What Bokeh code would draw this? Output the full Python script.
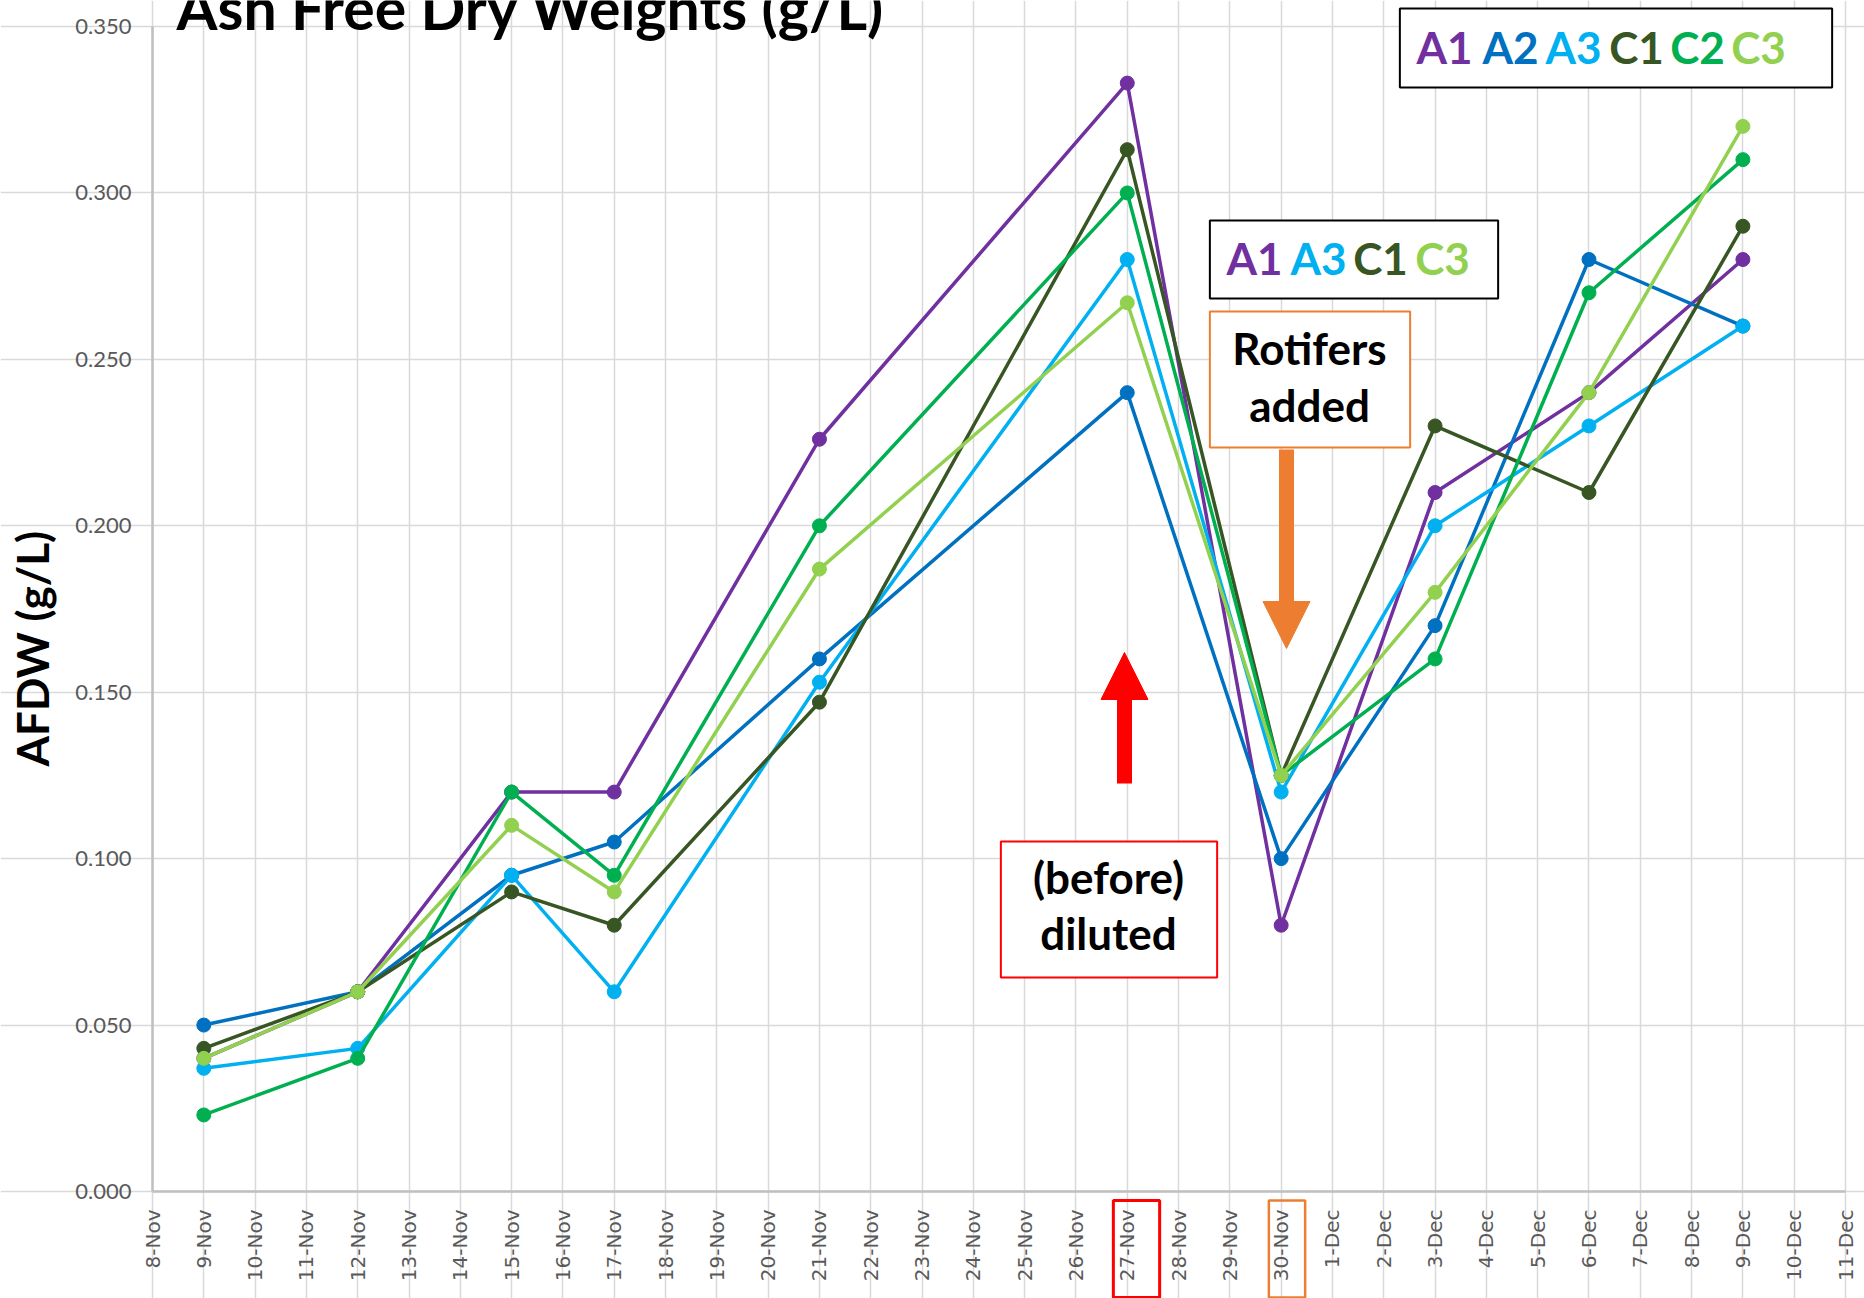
from math import pi
from bokeh.plotting import figure
from bokeh.models import (Range1d, FixedTicker, Label, Arrow,
                          NormalHead, NumeralTickFormatter)
from bokeh.embed import file_html
from bokeh.resources import INLINE

# ---------------- data ----------------
tick_labels = ["8-Nov", "9-Nov", "10-Nov", "11-Nov", "12-Nov", "13-Nov", "14-Nov",
               "15-Nov", "16-Nov", "17-Nov", "18-Nov", "19-Nov", "20-Nov", "21-Nov",
               "22-Nov", "23-Nov", "24-Nov", "25-Nov", "26-Nov", "27-Nov", "28-Nov",
               "29-Nov", "30-Nov", "1-Dec", "2-Dec", "3-Dec", "4-Dec", "5-Dec",
               "6-Dec", "7-Dec", "8-Dec", "9-Dec", "10-Dec", "11-Dec"]
dates = ["9-Nov", "12-Nov", "15-Nov", "17-Nov", "21-Nov", "27-Nov", "30-Nov",
         "3-Dec", "6-Dec", "9-Dec"]
A1 = [0.040, 0.060, 0.120, 0.120, 0.226, 0.333, 0.080, 0.210, 0.240, 0.280]
A2 = [0.050, 0.060, 0.095, 0.105, 0.160, 0.240, 0.100, 0.170, 0.280, 0.260]
A3 = [0.037, 0.043, 0.095, 0.060, 0.153, 0.280, 0.120, 0.200, 0.230, 0.260]
C1 = [0.043, 0.060, 0.090, 0.080, 0.147, 0.313, 0.125, 0.230, 0.210, 0.290]
C2 = [0.023, 0.040, 0.120, 0.095, 0.200, 0.300, 0.125, 0.160, 0.270, 0.310]
C3 = [0.040, 0.060, 0.110, 0.090, 0.187, 0.267, 0.125, 0.180, 0.240, 0.320]
series_names = ["A1", "A2", "A3", "C1", "C2", "C3"]
series_values = [A1, A2, A3, C1, C2, C3]
y_ticks = [0.0, 0.05, 0.10, 0.15, 0.20, 0.25, 0.30, 0.35]
y_max = 0.35

colors = {"A1": "#7030A0", "A2": "#0070C0", "A3": "#00B0F0",
          "C1": "#375623", "C2": "#00B050", "C3": "#92D050"}

x_idx = [tick_labels.index(d) for d in dates]
n_days = len(tick_labels) - 1

# pixel -> data helpers (axes span px 152..1845 horizontally, y=0 at px 1191, y=0.35 at px 26)
W, H = 1864, 1298
FL, FR, FT, FB = 152.0, 1845.0, 26.0, 1191.0
def X(px):
    return (px - FL) / (FR - FL) * n_days
def Y(py):
    return (FB - py) / (FB - FT) * y_max

# ---------------- figure ----------------
# the frame covers the whole canvas; both axes are pinned at the data origin
p = figure(width=W, height=H,
           x_range=Range1d(X(0), X(W)), y_range=Range1d(Y(H), Y(0)),
           output_backend="svg", toolbar_location=None,
           min_border=0, min_border_left=0, min_border_right=0,
           min_border_top=0, min_border_bottom=0)
p.outline_line_color = None
p.background_fill_color = "white"
p.border_fill_color = "white"

# axes
p.xaxis.fixed_location = 0
p.xaxis.bounds = (0, n_days)
p.xaxis.ticker = FixedTicker(ticks=list(range(len(tick_labels))))
p.xaxis.major_label_overrides = {i: t for i, t in enumerate(tick_labels)}
p.xaxis.major_label_orientation = pi / 2
p.xaxis.major_label_text_font = "DejaVu Sans"
p.xaxis.major_label_text_font_size = "20px"
p.xaxis.major_label_text_color = "#595959"
p.xaxis.major_label_standoff = 18

p.yaxis.fixed_location = 0
p.yaxis.bounds = (0, y_max)
p.yaxis.ticker = FixedTicker(ticks=y_ticks)
p.yaxis.formatter = NumeralTickFormatter(format="0.000")
p.yaxis.major_label_text_font = "Lato"
p.yaxis.major_label_text_font_size = "22px"
p.yaxis.major_label_text_color = "#595959"
p.yaxis.major_label_standoff = 21

for ax in (p.xaxis, p.yaxis):
    ax.major_tick_line_color = None
    ax.minor_tick_line_color = None
    ax.major_tick_out = 0
    ax.major_tick_in = 0
    ax.minor_tick_out = 0
    ax.minor_tick_in = 0
    ax.axis_line_color = "#BFBFBF"
    ax.axis_line_width = 2.5

p.xgrid.ticker = FixedTicker(ticks=list(range(len(tick_labels))))
p.xgrid.bounds = (0, y_max)
p.ygrid.ticker = FixedTicker(ticks=y_ticks)
p.ygrid.bounds = (0, n_days)
for g in (p.xgrid, p.ygrid):
    g.grid_line_color = "#D9D9D9"
    g.grid_line_width = 1.5

# ---------------- series ----------------
for name, vals in zip(series_names, series_values):
    c = colors[name]
    p.line(x_idx, vals, line_color=c, line_width=3.5)
    p.scatter(x_idx, vals, size=14, fill_color=c, line_color=c)

BOLD = "Lato"
BASE_CORR = 0.35  # empirical alphabetic-baseline correction (fraction of font size)

def lbl(px, py, text, size, color="black", align="left"):
    p.add_layout(Label(x=X(px), y=Y(py - BASE_CORR * size), text=text,
                       text_font=BOLD, text_font_style="bold",
                       text_font_size=f"{size}px", text_color=color,
                       text_align=align, text_baseline="alphabetic"))

def box(cx, top, bottom, w, color, lw, fill=True):
    """Rectangle drawn as the border of an (invisible-text) Label; padding is L, R, T, B."""
    pw = int(round(w / 2))
    h = int(round(bottom - top))
    p.add_layout(Label(x=X(cx), y=Y(top), text=" ",
                       text_font_size="1px", text_color="white",
                       text_align="center", text_baseline="top",
                       padding=(pw, pw, 0, h),
                       border_line_color=color, border_line_width=lw,
                       background_fill_color="white" if fill else None,
                       background_fill_alpha=1.0 if fill else 0.0))

# chart title (its top is cut off by the page edge in the original)
lbl(176, 28, "Ash Free Dry Weights (g/L)", 59)

# y axis title (rotated; baseline correction acts horizontally)
p.add_layout(Label(x=X(47 - BASE_CORR * 44), y=Y(648), text="AFDW (g/L)",
                   text_font=BOLD, text_font_style="bold", text_font_size="44px",
                   text_color="black", text_align="center",
                   text_baseline="alphabetic", angle=pi / 2))

# legend box 1
box(1615.5, 8, 86, 431, "black", 2)
for name, cx in zip(series_names, [1444, 1510, 1573, 1636, 1697, 1758]):
    lbl(cx, 62, name, 44, color=colors[name], align="center")

# legend box 2
box(1353.5, 220, 297, 289, "black", 2)
for name, cx in zip(["A1", "A3", "C1", "C3"], [1254, 1318, 1380, 1442]):
    lbl(cx, 273, name, 44, color=colors[name], align="center")

# Rotifers added box
box(1309.5, 311, 446, 201, "#ED7D31", 2)
lbl(1309, 363, "Rotifers", 44, align="center")
lbl(1309, 420, "added", 44, align="center")

# (before) diluted box
box(1108.5, 841, 976, 217, "#FF0000", 2)
lbl(1108, 892, "(before)", 44, align="center")
lbl(1108, 948, "diluted", 44, align="center")

# arrows
p.add_layout(Arrow(end=NormalHead(size=47, fill_color="#ED7D31", line_color="#ED7D31"),
                   x_start=X(1286), y_start=Y(449), x_end=X(1286), y_end=Y(648),
                   line_color="#ED7D31", line_width=15))
p.add_layout(Arrow(end=NormalHead(size=47, fill_color="#FF0000", line_color="#FF0000"),
                   x_start=X(1124), y_start=Y(783), x_end=X(1124), y_end=Y(652),
                   line_color="#FF0000", line_width=15))

# boxes around highlighted tick labels
box(1136, 1200, 1296, 46, "#FF0000", 3, fill=False)
box(1286.5, 1200, 1296, 37, "#ED7D31", 2.5, fill=False)

open("out.html", "w").write(file_html(p, INLINE))
